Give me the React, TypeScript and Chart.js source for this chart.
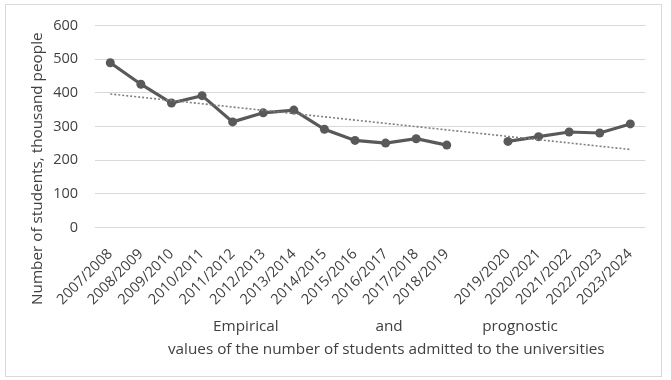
import React, { useEffect, useRef } from "react";
import { Chart, registerables } from "chart.js";

Chart.register(...registerables);

const categories = [
  "2007/2008", "2008/2009", "2009/2010", "2010/2011", "2011/2012", "2012/2013",
  "2013/2014", "2014/2015", "2015/2016", "2016/2017", "2017/2018", "2018/2019",
  "",
  "2019/2020", "2020/2021", "2021/2022", "2022/2023", "2023/2024",
];

const students: (number | null)[] = [
  490, 426, 370, 392, 314, 341, 349, 292, 259, 251, 264, 245,
  null,
  256, 270, 284, 281, 308,
];

const trend: (number | null)[] = [
  397, null, null, null, null, null, null, null, null, null, null, null,
  null,
  null, null, null, null, 232,
];

const yTicks = [0, 100, 200, 300, 400, 500, 600];

const yTitle = "Number of students, thousand people";
const xTitleWords = ["Empirical", "and", "prognostic"];
const xTitleLine2 = "values of the number of students admitted to the universities";

const FONT = "'Open Sans', 'Noto Sans', sans-serif";
const TEXT = "#404040";

const decorPlugin = {
  id: "decor",
  beforeDraw(chart: any) {
    const { ctx, width, height } = chart;
    ctx.save();
    ctx.fillStyle = "#ffffff";
    ctx.fillRect(0, 0, width, height);
    ctx.restore();
  },
  afterDraw(chart: any) {
    const { ctx, chartArea } = chart;
    const w = chartArea.right - chartArea.left;
    ctx.save();
    // outer border
    ctx.strokeStyle = "#d9d9d9";
    ctx.lineWidth = 1;
    ctx.strokeRect(5.5, 4.5, 656, 372);
    // x title
    ctx.fillStyle = TEXT;
    ctx.font = `15.3px ${FONT}`;
    ctx.textAlign = "center";
    ctx.textBaseline = "middle";
    const fr = [0.274, 0.534, 0.772];
    xTitleWords.forEach((t, i) => {
      ctx.fillText(t, chartArea.left + fr[i] * w, chartArea.bottom + 99);
    });
    ctx.fillText(xTitleLine2, chartArea.left + 0.529 * w, chartArea.bottom + 122);
    // y title
    ctx.translate(38, chartArea.top + 143);
    ctx.rotate(-Math.PI / 2);
    ctx.fillText(yTitle, 0, 0);
    ctx.restore();
  },
};

export default function App() {
  const ref = useRef<HTMLCanvasElement | null>(null);
  useEffect(() => {
    if (!ref.current) return;
    const chart = new Chart(ref.current, {
      type: "line",
      data: {
        labels: categories,
        datasets: [
          {
            data: trend,
            borderColor: "#7f7f7f",
            borderWidth: 1.6,
            borderDash: [2, 2],
            pointRadius: 0,
            spanGaps: true,
            order: 0,
          },
          {
            data: students,
            borderColor: "#595959",
            backgroundColor: "#595959",
            borderWidth: 3.2,
            pointRadius: 4.5,
            pointBackgroundColor: "#595959",
            pointBorderWidth: 0,
            spanGaps: false,
            order: 1,
          },
        ],
      },
      options: {
        animation: false,
        responsive: false,
        devicePixelRatio: 1,
        layout: { padding: { left: 0, top: 23, right: 25.4, bottom: 0 } },
        plugins: {
          legend: { display: false },
          tooltip: { enabled: false },
        },
        scales: {
          x: {
            offset: true,
            grid: { display: false },
            border: { display: false },
            ticks: {
              autoSkip: false,
              minRotation: 45,
              maxRotation: 45,
              padding: 10,
              color: TEXT,
              font: { family: FONT, size: 14.5 },
            },
            afterFit(scale: any) {
              scale.height = 152.5;
            },
          },
          y: {
            min: 0,
            max: 600,
            afterBuildTicks(scale: any) {
              scale.ticks = yTicks.map((v) => ({ value: v }));
            },
            grid: { color: "#d9d9d9", lineWidth: 1, drawTicks: false },
            border: { display: false },
            ticks: {
              padding: 17,
              color: TEXT,
              font: { family: FONT, size: 14.5 },
            },
            afterFit(scale: any) {
              scale.width = 95;
            },
          },
        },
      },
      plugins: [decorPlugin],
    });
    return () => chart.destroy();
  }, []);
  return (
    <div style={{ position: "fixed", left: 0, top: 0, width: 671, height: 380 }}>
      <canvas ref={ref} width={671} height={380} style={{ display: "block" }} />
    </div>
  );
}
